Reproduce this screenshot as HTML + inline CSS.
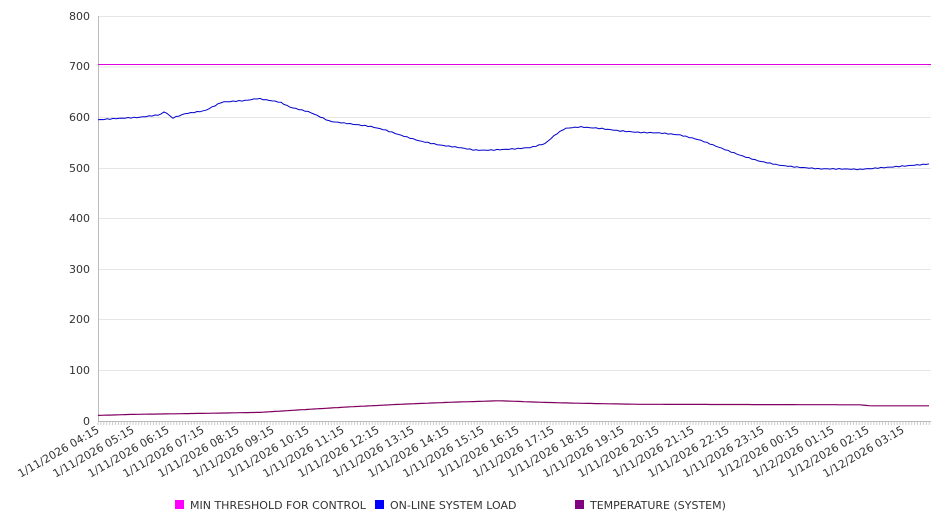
<!DOCTYPE html>
<html><head><meta charset="utf-8"><style>
body{margin:0;background:#fff}
svg{display:block;font-family:"DejaVu Sans","Liberation Sans",sans-serif}
</style></head><body>
<svg width="946" height="526" viewBox="0 0 946 526" xmlns="http://www.w3.org/2000/svg">
<g stroke="#e6e6e6" stroke-width="1">
<line x1="98" y1="16.5" x2="931" y2="16.5"/>
<line x1="98" y1="67" x2="931" y2="67"/>
<line x1="98" y1="117.5" x2="931" y2="117.5"/>
<line x1="98" y1="168.5" x2="931" y2="168.5"/>
<line x1="98" y1="218.5" x2="931" y2="218.5"/>
<line x1="98" y1="269.5" x2="931" y2="269.5"/>
<line x1="98" y1="319.5" x2="931" y2="319.5"/>
<line x1="98" y1="370.5" x2="931" y2="370.5"/>
</g>
<line x1="98.5" y1="16" x2="98.5" y2="421" stroke="#bbb"/>
<line x1="98" y1="421.5" x2="931" y2="421.5" stroke="#bbb"/>
<g id="ticks" stroke="#ccc"></g>
<g font-size="11" fill="#333" text-anchor="end">
<text x="90" y="20">800</text><text x="90" y="70">700</text><text x="90" y="121">600</text>
<text x="90" y="172">500</text><text x="90" y="222">400</text><text x="90" y="273">300</text>
<text x="90" y="323">200</text><text x="90" y="374">100</text><text x="90" y="425">0</text>
</g>
<g id="xl" font-size="11" fill="#333" text-anchor="end"></g>
<line x1="98" y1="64.5" x2="931" y2="64.5" stroke="#e000e0" stroke-width="1"/>
<polyline id="blue" fill="none" stroke="#0000cc" stroke-width="1"/>
<polyline id="temp" fill="none" stroke="#800060" stroke-width="1.2"/>
<g font-size="11" fill="#333">
<rect x="175" y="500" width="9" height="9" fill="#ff00ff"/><text x="190" y="509">MIN THRESHOLD FOR CONTROL</text>
<rect x="375" y="500" width="9" height="9" fill="#0000ff"/><text x="390" y="509">ON-LINE SYSTEM LOAD</text>
<rect x="575" y="500" width="9" height="9" fill="#800080"/><text x="590" y="509">TEMPERATURE (SYSTEM)</text>
</g>
</svg>
<script>
var ns="http://www.w3.org/2000/svg";
function Y(v){return 421-v*0.50625;}
function interp(pts,x){for(var i=0;i<pts.length-1;i++){if(x<=pts[i+1][0]){var a=pts[i],b=pts[i+1];return a[1]+(b[1]-a[1])*(x-a[0])/(b[0]-a[0]);}}return pts[pts.length-1][1];}
var B=[[98,595],[120,598],[140,600],[160,605],[165,612],[172,598],[185,607],[205,613],[212,620],[222,630],[245,633],[258,637],[280,630],[290,620],[310,610],[330,592],[350,587],[370,582],[385,575],[400,565],[420,553],[440,545],[460,540],[475,535],[490,535],[510,537],[530,540],[545,548],[555,565],[565,578],[580,581],[600,578],[620,573],[640,570],[660,569],[680,565],[700,555],[720,540],[740,525],[760,513],[780,505],[800,501],[820,498],[840,498],[860,497],[880,500],[900,503],[931,508]];
var T=[[98,11],[130,13],[200,15],[260,17],[300,22],[350,28],[400,33],[450,37],[500,40],[540,37],[580,35],[640,33],[860,32],[870,30],[931,30]];
var pb=[],pt=[];
for(var x=98;x<=931;x+=3){var w=Math.sin(x*0.9)*0.8;pb.push(x+","+Y(interp(B,x)+w).toFixed(1));pt.push(x+","+Y(interp(T,x)).toFixed(1));}
document.getElementById("blue").setAttribute("points",pb.join(" "));
document.getElementById("temp").setAttribute("points",pt.join(" "));
var tk=document.getElementById("ticks");
for(var x=98;x<=931;x+=35/12){var l=document.createElementNS(ns,"line");l.setAttribute("x1",x);l.setAttribute("x2",x);l.setAttribute("y1",422);l.setAttribute("y2",425);tk.appendChild(l);}
var xl=document.getElementById("xl");
for(var i=0;i<24;i++){var h=(4+i)%24;var d=(4+i)>=24?"1/12/2026 ":"1/11/2026 ";var hs=(h<10?"0":"")+h;
var t=document.createElementNS(ns,"text");var x=100+i*35;t.setAttribute("x",x);t.setAttribute("y",432);t.setAttribute("transform","rotate(-30 "+x+" 432)");t.textContent=d+hs+":15";xl.appendChild(t);}
</script>
</body></html>
